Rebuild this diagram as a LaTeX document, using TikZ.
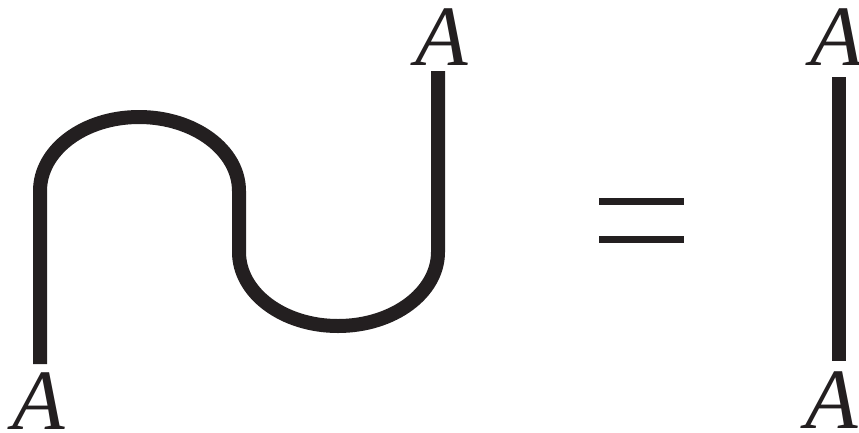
\documentclass[tikz,border=0pt]{standalone}
\usepackage{fontspec}
\setmainfont{Liberation Serif}
\definecolor{ink}{HTML}{231F20}
\begin{document}
\begin{tikzpicture}[x=1pt,y=-1pt,
  wire/.style={draw=ink,line width=14pt,line cap=butt},
  eqbar/.style={draw=ink,line width=7pt,line cap=butt},
  lab/.style={text=ink,font=\fontsize{86}{86}\selectfont\itshape,inner sep=0pt,anchor=base}]
\useasboundingbox (0,0) rectangle (859,432);
% labels
\node[lab] (Abl) at (39,429) {A};
\node[lab] (Atm) at (442,65) {A};
\node[lab] (Atr) at (837,65) {A};
\node[lab] (Abr) at (832,428) {A};
% snake ends
\coordinate (s0) at (40,364);
\coordinate (s1) at (438,71);
\draw[wire] (s0) -- (40,191) .. controls (40,150) and (84,117) .. (139,117)
  .. controls (194,117) and (239,150) .. (239,191) -- (239,252)
  .. controls (239,293) and (283,326) .. (338,326)
  .. controls (393,326) and (438,293) .. (438,252) -- (s1);
% equals sign
\coordinate (e1a) at (599,201.5); \coordinate (e1b) at (684,201.5);
\coordinate (e2a) at (599,239.5); \coordinate (e2b) at (684,239.5);
\draw[eqbar] (e1a) -- (e1b);
\draw[eqbar] (e2a) -- (e2b);
% straight wire
\coordinate (r0) at (839,77);
\coordinate (r1) at (839,361);
\draw[wire] (r0) -- (r1);
\end{tikzpicture}
\end{document}
